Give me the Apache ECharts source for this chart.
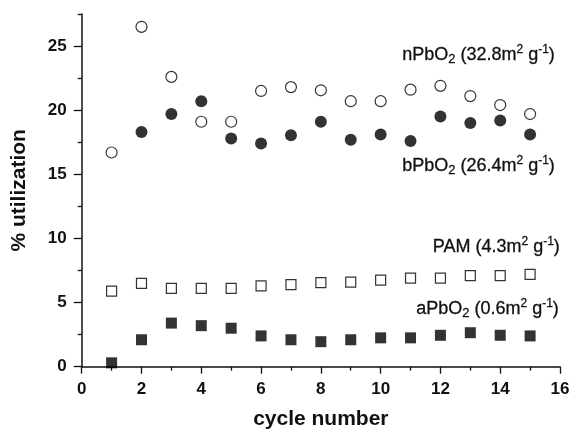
<!DOCTYPE html>
<html><head><meta charset="utf-8">
<script src="https://cdn.jsdelivr.net/npm/echarts@6/dist/echarts.min.js"></script>
<style>html,body{margin:0;padding:0;background:#fff}#c{width:570px;height:431px}</style>
</head><body><div id="c"></div>
<script>
const cycles = [1,2,3,4,5,6,7,8,9,10,11,12,13,14,15];
const nPbO2 = [16.7,26.5,22.6,19.1,19.1,21.5,21.8,21.55,20.7,20.7,21.6,21.9,21.1,20.4,19.7];
const bPbO2 = [null,18.3,19.7,20.7,17.8,17.4,18.05,19.1,17.7,18.1,17.6,19.5,19.0,19.2,18.1];
const PAM   = [5.9,6.5,6.1,6.1,6.1,6.3,6.4,6.55,6.6,6.75,6.9,6.9,7.1,7.1,7.2];
const aPbO2 = [0.3,2.1,3.4,3.2,3.0,2.4,2.1,1.95,2.1,2.25,2.25,2.45,2.65,2.45,2.4];
const yMajor = [0,5,10,15,20,25];
const yMinor = [2.5,7.5,12.5,17.5,22.5,27.5];
const labels = [
  'nPbO{s|2} (32.8m{p|2} g{p|-1})',
  'bPbO{s|2} (26.4m{p|2} g{p|-1})',
  'PAM (4.3m{p|2} g{p|-1})',
  'aPbO{s|2} (0.6m{p|2} g{p|-1})'
];
const pairs = arr => cycles.map((c,i)=>[c,arr[i]]).filter(p=>p[1]!==null);
const chart = echarts.init(document.getElementById('c'));
const F = '"Liberation Sans", Arial, sans-serif';
const open = {color:'#fff', borderColor:'#000', borderWidth:1.2};
const fill = {color:'#000'};
const richStyle = {
  s:{fontSize:13, fontFamily:F, fill:'#111', verticalAlign:'bottom', padding:[9,0,0,0]},
  p:{fontSize:12, fontFamily:F, fill:'#111', padding:[0,0,9,0]}
};
function txt(t, x, y){
  return {type:'text', right:570-x, top:y, style:{text:t, fontSize:18, fontFamily:F, fill:'#111', stroke:'#111', lineWidth:0.3, rich:richStyle}};
}
chart.setOption({
  animation:false,
  grid:{left:81.7, right:10, top:14, bottom:64.3, outerBoundsMode:'none', containLabel:false},
  xAxis:{type:'value', min:0, max:16, interval:2,
    name:'cycle number', nameLocation:'middle', nameGap:42,
    nameTextStyle:{fontSize:21, fontWeight:'bold', fontFamily:F, color:'#111'},
    axisLine:{show:true, onZero:false, lineStyle:{color:'#111', width:1.5}},
    axisTick:{show:true, length:7, lineStyle:{color:'#111', width:1.3}},
    minorTick:{show:true, splitNumber:2, length:4, lineStyle:{color:'#111', width:1.3}},
    axisLabel:{fontSize:17, fontWeight:'bold', fontFamily:F, color:'#111', margin:14},
    splitLine:{show:false}},
  yAxis:[{type:'value', min:0, max:27.5,
    name:'% utilization', nameLocation:'middle', nameGap:52, nameRotate:90,
    nameTextStyle:{fontSize:21, fontWeight:'bold', fontFamily:F, color:'#111'},
    axisLine:{show:true, onZero:false, lineStyle:{color:'#111', width:1.5}},
    axisTick:{show:true, length:8, customValues:yMajor, lineStyle:{color:'#111', width:1.3}},
    axisLabel:{fontSize:17, fontWeight:'bold', fontFamily:F, color:'#111', margin:15, customValues:yMajor},
    splitLine:{show:false}},
   {type:'value', min:0, max:27.5, position:'left',
    axisLine:{show:false},
    axisTick:{show:true, length:4, customValues:yMinor, lineStyle:{color:'#111', width:1.3}},
    axisLabel:{show:false, customValues:yMinor},
    splitLine:{show:false}}],
  series:[
    {type:'scatter', name:'nPbO2', data:pairs(nPbO2), symbol:'circle', symbolSize:11, itemStyle:open},
    {type:'scatter', name:'bPbO2', data:pairs(bPbO2), symbol:'circle', symbolSize:12, itemStyle:fill},
    {type:'scatter', name:'PAM', data:pairs(PAM), symbol:'rect', symbolSize:10, itemStyle:open},
    {type:'scatter', name:'aPbO2', data:pairs(aPbO2), symbol:'rect', symbolSize:11, itemStyle:fill}
  ],
  graphic:[
    txt(labels[0], 555, 44),
    txt(labels[1], 555, 155),
    txt(labels[2], 560, 236),
    txt(labels[3], 559, 298)
  ]
});
</script></body></html>
